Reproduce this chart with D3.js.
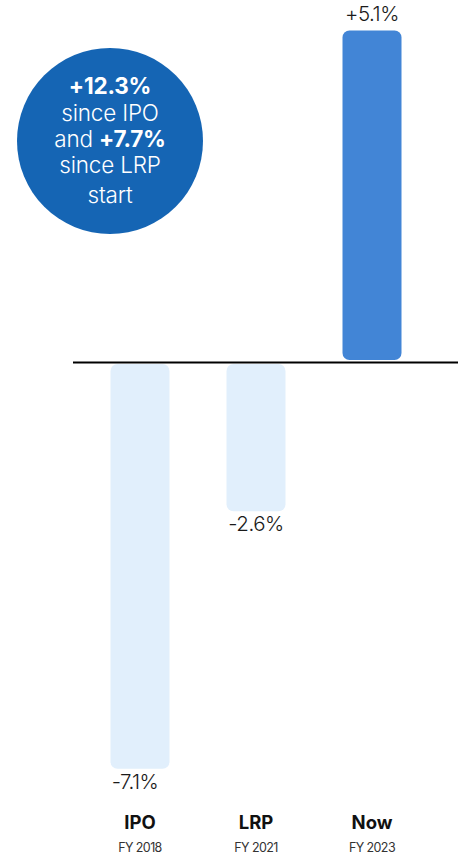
<!DOCTYPE html>
<html>
<head>
<meta charset="utf-8">
<script src="https://cdn.jsdelivr.net/npm/d3@7"></script>
<style>
  html, body { margin: 0; padding: 0; background: #ffffff; }
  svg { display: block; font-family: "Inter", "Noto Sans", sans-serif; }
</style>
</head>
<body>
<svg id="chart" width="462" height="857"></svg>
<script>
// Change in share (percentage points) at each milestone
const categories = ["IPO", "LRP", "Now"];
const periods = ["FY 2018", "FY 2021", "FY 2023"];
const values = [-7.1, -2.6, 5.1];
const valueLabels = ["-7.1%", "-2.6%", "+5.1%"];

// Callout bubble lines: [regular prefix, bold part, regular suffix]
const calloutLines = [
  ["", "+12.3%", ""],
  ["since IPO", "", ""],
  ["and ", "+7.7%", ""],
  ["since LRP", "", ""],
  ["start", "", ""]
];

const svg = d3.select("#chart");

const zeroY = 362.5;
const x = d3.scalePoint().domain(categories).range([140, 372]);
const barW = 59;
// Separate slopes above and below the baseline
const y = d3.scaleLinear().domain([-7, 0, 5]).range([763, zeroY, 37]);

const barColor = v => v >= 0 ? "#4285d6" : "#e1effc";

const data = categories.map((c, i) => ({ c, v: values[i], label: valueLabels[i], period: periods[i] }));

// Bars, kept a hair away from the baseline
svg.append("g").selectAll("rect")
  .data(data)
  .join("rect")
  .attr("x", d => x(d.c) - barW / 2)
  .attr("y", d => d.v >= 0 ? y(d.v) : zeroY + 1.5)
  .attr("width", barW)
  .attr("height", d => d.v >= 0 ? (zeroY - 2.5) - y(d.v) : y(d.v) - (zeroY + 1.5))
  .attr("rx", 7)
  .attr("fill", d => barColor(d.v));

// Baseline
svg.append("line")
  .attr("x1", 73).attr("x2", 458)
  .attr("y1", zeroY).attr("y2", zeroY)
  .attr("stroke", "#000").attr("stroke-width", 2);

// Value labels
svg.append("g").selectAll("text")
  .data(data)
  .join("text")
  .attr("x", d => x(d.c) - (d.v < -5 ? 5 : 0))
  .attr("y", d => d.v >= 0 ? y(d.v) - 9 : y(d.v) + 20)
  .attr("text-anchor", "middle")
  .attr("font-size", 20.5)
  .attr("font-weight", 300)
  .attr("letter-spacing", -0.5)
  .attr("fill", "#1a1a1a")
  .text(d => d.label);

// Category labels
const cat = svg.append("g").selectAll("g")
  .data(data)
  .join("g")
  .attr("transform", d => `translate(${x(d.c)},0)`);
cat.append("text")
  .attr("y", 829)
  .attr("text-anchor", "middle")
  .attr("font-size", 18.5)
  .attr("font-weight", 700)
  .attr("fill", "#111")
  .text(d => d.c);
cat.append("text")
  .attr("y", 852)
  .attr("text-anchor", "middle")
  .attr("font-size", 12.5)
  .attr("letter-spacing", -0.6)
  .attr("fill", "#333")
  .text(d => d.period);

// Callout bubble
const bubble = svg.append("g").attr("transform", "translate(110,141)");
bubble.append("circle").attr("r", 93).attr("fill", "#1565b4");
const lineY = [-47, -20, 6, 32, 62];
bubble.selectAll("text")
  .data(calloutLines)
  .join("text")
  .attr("y", (d, i) => lineY[i])
  .attr("text-anchor", "middle")
  .attr("font-size", 22.5)
  .attr("fill", "#ffffff")
  .attr("letter-spacing", -0.2)
  .each(function(d) {
    const t = d3.select(this);
    if (d[0]) t.append("tspan").attr("font-weight", 300).text(d[0]);
    if (d[1]) t.append("tspan").attr("font-weight", 700).text(d[1]);
    if (d[2]) t.append("tspan").attr("font-weight", 300).text(d[2]);
  });
</script>
</body>
</html>
